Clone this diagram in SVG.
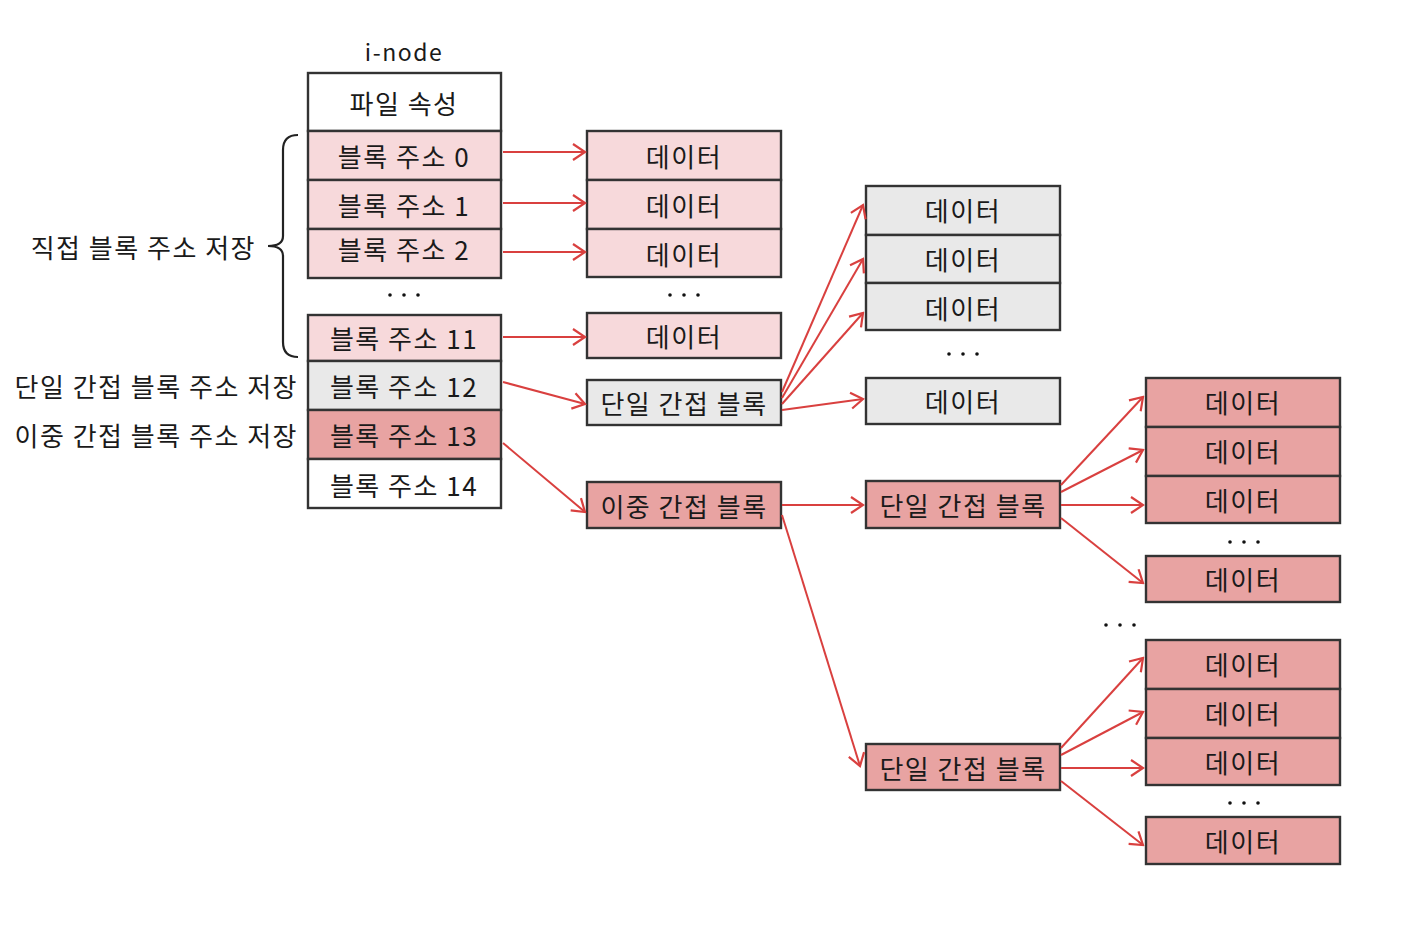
<svg xmlns="http://www.w3.org/2000/svg" width="1426" height="944" viewBox="0 0 1426 944">
<style>
.t{font-family:"Noto Sans CJK KR","Noto Sans",sans-serif;font-size:26px;letter-spacing:1.5px;fill:#1a1a1a;text-anchor:middle;dominant-baseline:central}
.l{font-family:"Noto Sans CJK KR","Noto Sans",sans-serif;font-size:26px;letter-spacing:1.5px;fill:#1a1a1a;text-anchor:end;dominant-baseline:central}
.c{stroke:#333;stroke-width:2.4}
.lp{fill:#f7d9db}.gr{fill:#e9e9e9}.dp{fill:#e8a3a2}.wh{fill:#fff}
.a{stroke:#d9403f;stroke-width:2;fill:none;marker-end:url(#ah)}
.d{fill:#111}
</style>
<defs>
<marker id="ah" markerUnits="userSpaceOnUse" markerWidth="16" markerHeight="20" refX="14" refY="10" orient="auto" viewBox="0 0 16 20">
<path d="M2,2 L14,10 L2,18" fill="none" stroke="#d9403f" stroke-width="2.2"/>
</marker>
</defs>
<rect width="1426" height="944" fill="#fff"/>

<g id="inode">
<text class="t" x="404" y="51" style="font-size:23px">i-node</text>
<rect class="c wh" x="308" y="73" width="193" height="58"/><text class="t" x="404" y="102">파일 속성</text>
<rect class="c lp" x="308" y="131" width="193" height="49"/><text class="t" x="404" y="155">블록 주소 0</text>
<rect class="c lp" x="308" y="180" width="193" height="49"/><text class="t" x="404" y="204">블록 주소 1</text>
<rect class="c lp" x="308" y="229" width="193" height="49"/><text class="t" x="404" y="248">블록 주소 2</text>
<circle class="d" cx="390" cy="295" r="1.8"/><circle class="d" cx="404" cy="295" r="1.8"/><circle class="d" cx="418" cy="295" r="1.8"/>
<rect class="c lp" x="308" y="315" width="193" height="46"/><text class="t" x="404" y="337">블록 주소 11</text>
<rect class="c gr" x="308" y="361" width="193" height="49"/><text class="t" x="404" y="385">블록 주소 12</text>
<rect class="c dp" x="308" y="410" width="193" height="49"/><text class="t" x="404" y="434">블록 주소 13</text>
<rect class="c wh" x="308" y="459" width="193" height="49"/><text class="t" x="404" y="484">블록 주소 14</text>
</g>

<g id="labels">
<path d="M298,135 Q283,135 283,150 L283,236 Q283,246 268,246 Q283,246 283,256 L283,342 Q283,357 298,357" fill="none" stroke="#222" stroke-width="2.2"/>
<text class="l" x="256" y="246">직접 블록 주소 저장</text>
<text class="l" x="298" y="385">단일 간접 블록 주소 저장</text>
<text class="l" x="298" y="434">이중 간접 블록 주소 저장</text>
</g>

<g id="direct-data">
<rect class="c lp" x="587" y="131" width="194" height="49"/><text class="t" x="684" y="155">데이터</text>
<rect class="c lp" x="587" y="180" width="194" height="49"/><text class="t" x="684" y="204">데이터</text>
<rect class="c lp" x="587" y="229" width="194" height="48"/><text class="t" x="684" y="253">데이터</text>
<circle class="d" cx="670" cy="295" r="1.8"/><circle class="d" cx="684" cy="295" r="1.8"/><circle class="d" cx="698" cy="295" r="1.8"/>
<rect class="c lp" x="587" y="313" width="194" height="45"/><text class="t" x="684" y="335">데이터</text>
</g>

<g id="single-indirect">
<rect class="c gr" x="587" y="380" width="194" height="45"/><text class="t" x="684" y="402">단일 간접 블록</text>
</g>

<g id="single-data">
<rect class="c gr" x="866" y="186" width="194" height="49"/><text class="t" x="963" y="209">데이터</text>
<rect class="c gr" x="866" y="235" width="194" height="48"/><text class="t" x="963" y="258">데이터</text>
<rect class="c gr" x="866" y="283" width="194" height="47"/><text class="t" x="963" y="307">데이터</text>
<circle class="d" cx="949" cy="354" r="1.8"/><circle class="d" cx="963" cy="354" r="1.8"/><circle class="d" cx="977" cy="354" r="1.8"/>
<rect class="c gr" x="866" y="378" width="194" height="46"/><text class="t" x="963" y="400">데이터</text>
</g>

<g id="double-indirect">
<rect class="c dp" x="587" y="482" width="194" height="46"/><text class="t" x="684" y="505">이중 간접 블록</text>
</g>

<g id="double-single-1">
<rect class="c dp" x="866" y="481" width="194" height="47"/><text class="t" x="963" y="504">단일 간접 블록</text>
</g>
<g id="double-single-2">
<rect class="c dp" x="866" y="744" width="194" height="46"/><text class="t" x="963" y="767">단일 간접 블록</text>
</g>

<g id="double-data-1">
<rect class="c dp" x="1146" y="378" width="194" height="49"/><text class="t" x="1243" y="401">데이터</text>
<rect class="c dp" x="1146" y="427" width="194" height="49"/><text class="t" x="1243" y="450">데이터</text>
<rect class="c dp" x="1146" y="476" width="194" height="47"/><text class="t" x="1243" y="499">데이터</text>
<circle class="d" cx="1230" cy="542" r="1.8"/><circle class="d" cx="1244" cy="542" r="1.8"/><circle class="d" cx="1258" cy="542" r="1.8"/>
<rect class="c dp" x="1146" y="556" width="194" height="46"/><text class="t" x="1243" y="578">데이터</text>
</g>

<g id="mid-dots">
<circle class="d" cx="1106" cy="625" r="1.8"/><circle class="d" cx="1120" cy="625" r="1.8"/><circle class="d" cx="1134" cy="625" r="1.8"/>
</g>

<g id="double-data-2">
<rect class="c dp" x="1146" y="640" width="194" height="49"/><text class="t" x="1243" y="663">데이터</text>
<rect class="c dp" x="1146" y="689" width="194" height="49"/><text class="t" x="1243" y="712">데이터</text>
<rect class="c dp" x="1146" y="738" width="194" height="47"/><text class="t" x="1243" y="761">데이터</text>
<circle class="d" cx="1230" cy="803" r="1.8"/><circle class="d" cx="1244" cy="803" r="1.8"/><circle class="d" cx="1258" cy="803" r="1.8"/>
<rect class="c dp" x="1146" y="817" width="194" height="47"/><text class="t" x="1243" y="840">데이터</text>
</g>

<g id="connectors">
<path class="a" d="M503,152 L585,152"/>
<path class="a" d="M503,203 L585,203"/>
<path class="a" d="M503,252 L585,252"/>
<path class="a" d="M503,337 L585,337"/>
<path class="a" d="M503,382 L585,404"/>
<path class="a" d="M503,443 L585,512"/>
<path class="a" d="M782,392 L863,205"/>
<path class="a" d="M782,398 L863,259"/>
<path class="a" d="M782,404 L863,313"/>
<path class="a" d="M782,410 L863,399"/>
<path class="a" d="M782,505 L863,505"/>
<path class="a" d="M782,515 L860,766"/>
<path class="a" d="M1061,485 L1143,397"/>
<path class="a" d="M1061,492 L1143,450"/>
<path class="a" d="M1061,505 L1143,505"/>
<path class="a" d="M1061,518 L1143,583"/>
<path class="a" d="M1061,748 L1143,658"/>
<path class="a" d="M1061,755 L1143,712"/>
<path class="a" d="M1061,768 L1143,768"/>
<path class="a" d="M1061,781 L1143,845"/>
</g>
</svg>
